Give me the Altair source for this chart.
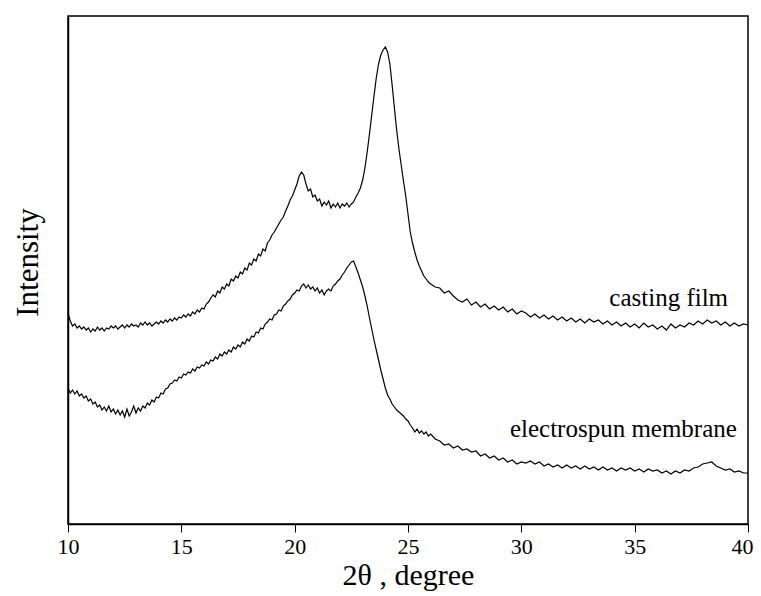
import altair as alt
import pandas as pd

# casting film: 2theta (deg) and intensity (a.u.)
cast_x = [10.0, 10.1, 10.2, 10.3, 10.4, 10.5, 10.6, 10.7, 10.8, 10.9,
          11.0, 11.1, 11.2, 11.3, 11.4, 11.5, 11.6, 11.7, 11.8, 11.9,
          12.0, 12.1, 12.2, 12.3, 12.4, 12.5, 12.6, 12.7, 12.8, 12.9,
          13.0, 13.1, 13.2, 13.3, 13.4, 13.5, 13.6, 13.7, 13.8, 13.9,
          14.0, 14.1, 14.2, 14.3, 14.4, 14.5, 14.6, 14.7, 14.8, 14.9,
          15.0, 15.1, 15.2, 15.3, 15.4, 15.5, 15.6, 15.7, 15.8, 15.9,
          16.0, 16.1, 16.2, 16.3, 16.4, 16.5, 16.6, 16.7, 16.8, 16.9,
          17.0, 17.1, 17.2, 17.3, 17.4, 17.5, 17.6, 17.7, 17.8, 17.9,
          18.0, 18.1, 18.2, 18.3, 18.4, 18.5, 18.6, 18.7, 18.8, 18.9,
          19.0, 19.1, 19.2, 19.3, 19.4, 19.5, 19.6, 19.7, 19.8, 19.9,
          20.0, 20.1, 20.2, 20.3, 20.4, 20.5, 20.6, 20.7, 20.8, 20.9,
          21.0, 21.1, 21.2, 21.3, 21.4, 21.5, 21.6, 21.7, 21.8, 21.9,
          22.0, 22.1, 22.2, 22.3, 22.4, 22.5, 22.6, 22.7, 22.8, 22.9,
          23.0, 23.1, 23.2, 23.3, 23.4, 23.5, 23.6, 23.7, 23.8, 23.9,
          24.0, 24.1, 24.2, 24.3, 24.4, 24.5, 24.6, 24.7, 24.8, 24.9,
          25.0, 25.1, 25.2, 25.3, 25.4, 25.5, 25.6, 25.7, 25.8, 25.9,
          26.0, 26.2, 26.4, 26.6, 26.8, 27.0, 27.2, 27.4, 27.6, 27.8,
          28.0, 28.2, 28.4, 28.6, 28.8, 29.0, 29.2, 29.4, 29.6, 29.8,
          30.0, 30.2, 30.4, 30.6, 30.8, 31.0, 31.2, 31.4, 31.6, 31.8,
          32.0, 32.2, 32.4, 32.6, 32.8, 33.0, 33.2, 33.4, 33.6, 33.8,
          34.0, 34.2, 34.4, 34.6, 34.8, 35.0, 35.2, 35.4, 35.6, 35.8,
          36.0, 36.2, 36.4, 36.6, 36.8, 37.0, 37.2, 37.4, 37.6, 37.8,
          38.0, 38.2, 38.4, 38.6, 38.8, 39.0, 39.2, 39.4, 39.6, 39.8,
          40.0]
cast_y = [211, 203, 198, 200, 196, 198, 195, 197, 194, 196,
          192, 195, 193, 197, 194, 196, 193, 196, 195, 198,
          196, 198, 195, 197, 199, 196, 199, 197, 200, 198,
          199, 197, 201, 199, 202, 199, 201, 198, 200, 202,
          200, 203, 201, 204, 202, 205, 203, 206, 204, 207,
          206, 209, 207, 210, 208, 212, 210, 214, 212, 216,
          215, 220, 222, 226, 229, 227, 233, 231, 237, 235,
          240, 238, 245, 243, 248, 246, 252, 250, 256, 254,
          261, 259, 265, 263, 270, 268, 275, 273, 281, 284,
          289, 292, 296, 300, 304, 307, 313, 318, 324, 328,
          334, 340, 348, 352, 349, 340, 333, 335, 327, 329,
          323, 325, 318, 322, 319, 323, 316, 320, 317, 321,
          316, 320, 318, 321, 317, 320, 322, 327, 331, 336,
          344, 356, 372, 390, 409, 428, 446, 460, 469, 474,
          477, 472, 460, 439, 416, 394, 375, 359, 343, 328,
          310, 292, 281, 272, 264, 258, 253, 248, 245, 242,
          240, 237, 236, 231, 233, 228, 224, 222, 225, 219,
          222, 217, 220, 215, 218, 214, 217, 212, 215, 210,
          213, 211, 207, 210, 206, 209, 205, 208, 204, 207,
          203, 206, 202, 205, 201, 205, 202, 204, 200, 203,
          199, 202, 198, 201, 197, 200, 196, 201, 197, 199,
          195, 198, 194, 200, 196, 199, 197, 201, 199, 203,
          200, 204, 201, 203, 199, 202, 198, 201, 198, 200,
          199]

# electrospun membrane
elec_x = [10.0, 10.1, 10.2, 10.3, 10.4, 10.5, 10.6, 10.7, 10.8, 10.9,
          11.0, 11.1, 11.2, 11.3, 11.4, 11.5, 11.6, 11.7, 11.8, 11.9,
          12.0, 12.1, 12.2, 12.3, 12.4, 12.5, 12.6, 12.7, 12.8, 12.9,
          13.0, 13.1, 13.2, 13.3, 13.4, 13.5, 13.6, 13.7, 13.8, 13.9,
          14.0, 14.1, 14.2, 14.3, 14.4, 14.5, 14.6, 14.7, 14.8, 14.9,
          15.0, 15.1, 15.2, 15.3, 15.4, 15.5, 15.6, 15.7, 15.8, 15.9,
          16.0, 16.1, 16.2, 16.3, 16.4, 16.5, 16.6, 16.7, 16.8, 16.9,
          17.0, 17.1, 17.2, 17.3, 17.4, 17.5, 17.6, 17.7, 17.8, 17.9,
          18.0, 18.1, 18.2, 18.3, 18.4, 18.5, 18.6, 18.7, 18.8, 18.9,
          19.0, 19.1, 19.2, 19.3, 19.4, 19.5, 19.6, 19.7, 19.8, 19.9,
          20.0, 20.1, 20.2, 20.3, 20.4, 20.5, 20.6, 20.7, 20.8, 20.9,
          21.0, 21.1, 21.2, 21.3, 21.4, 21.5, 21.6, 21.7, 21.8, 21.9,
          22.0, 22.1, 22.2, 22.3, 22.4, 22.5, 22.6, 22.7, 22.8, 22.9,
          23.0, 23.1, 23.2, 23.3, 23.4, 23.5, 23.6, 23.7, 23.8, 23.9,
          24.0, 24.1, 24.2, 24.3, 24.4, 24.5, 24.6, 24.7, 24.8, 24.9,
          25.0, 25.1, 25.2, 25.3, 25.4, 25.5, 25.6, 25.7, 25.8, 25.9,
          26.0, 26.2, 26.4, 26.6, 26.8, 27.0, 27.2, 27.4, 27.6, 27.8,
          28.0, 28.2, 28.4, 28.6, 28.8, 29.0, 29.2, 29.4, 29.6, 29.8,
          30.0, 30.2, 30.4, 30.6, 30.8, 31.0, 31.2, 31.4, 31.6, 31.8,
          32.0, 32.2, 32.4, 32.6, 32.8, 33.0, 33.2, 33.4, 33.6, 33.8,
          34.0, 34.2, 34.4, 34.6, 34.8, 35.0, 35.2, 35.4, 35.6, 35.8,
          36.0, 36.2, 36.4, 36.6, 36.8, 37.0, 37.2, 37.4, 37.6, 37.8,
          38.0, 38.2, 38.4, 38.6, 38.8, 39.0, 39.2, 39.4, 39.6, 39.8,
          40.0]
elec_y = [136, 131, 134, 130, 133, 128, 130, 126, 128, 123,
          125, 120, 122, 117, 119, 114, 117, 113, 118, 112,
          115, 110, 114, 109, 113, 107, 115, 108, 112, 118,
          111, 116, 113, 118, 116, 121, 119, 124, 122, 127,
          126, 131, 130, 135, 136, 140, 141, 144, 143, 147,
          146, 150, 149, 152, 151, 155, 153, 157, 156, 159,
          158, 162, 160, 164, 163, 167, 165, 170, 168, 172,
          170, 174, 172, 177, 175, 179, 177, 182, 180, 185,
          183, 188, 187, 192, 191, 196, 195, 200, 202, 205,
          204, 209, 210, 214, 213, 218, 220, 223, 225, 229,
          231, 234, 233, 238, 240, 236, 239, 235, 237, 233,
          236, 231, 234, 229, 233, 235, 233, 238, 240, 243,
          245, 249, 252, 256, 259, 262, 263, 257, 251, 244,
          237, 228, 218, 206, 195, 184, 174, 164, 154, 145,
          136, 129, 125, 120, 117, 114, 112, 110, 108, 105,
          103, 99, 96, 92, 95, 91, 93, 90, 92, 88,
          90, 85, 83, 79, 80, 76, 78, 74, 75, 72,
          73, 68, 70, 66, 68, 64, 66, 62, 64, 60,
          62, 61, 63, 60, 62, 58, 60, 57, 59, 56,
          59, 56, 58, 55, 58, 55, 57, 54, 57, 54,
          56, 53, 56, 54, 56, 53, 55, 52, 55, 53,
          54, 51, 53, 50, 53, 51, 54, 53, 56, 57,
          60, 61, 62, 58, 56, 54, 55, 52, 53, 51,
          51]

label_text = ["casting film", "electrospun membrane"]
label_x = [39.12, 39.51]
label_y = [218, 87]

df = pd.concat([
    pd.DataFrame({"t": cast_x, "I": cast_y, "s": "casting film"}),
    pd.DataFrame({"t": elec_x, "I": elec_y, "s": "electrospun membrane"}),
])
lab = pd.DataFrame({"text": label_text, "t": label_x, "I": label_y})

FONT = "Liberation Serif"

xs = alt.Scale(domain=[10, 40], nice=False, zero=False)
ys = alt.Scale(domain=[0, 508], nice=False, zero=False)

lines = alt.Chart(df).mark_line(color="black", strokeWidth=1.2).encode(
    x=alt.X("t:Q", scale=xs, axis=alt.Axis(
        title="2θ , degree", values=[10, 15, 20, 25, 30, 35, 40], format="d",
        tickSize=8, tickColor="black", tickWidth=1, labelPadding=4, labelFlush=False,
        labelAlign={"expr": "datum.value == 40 ? 'right' : 'center'"},
        labelOffset={"expr": "datum.value == 40 ? 5 : 0"},
        labelFont=FONT, labelFontSize=22, labelColor="black",
        titleFont=FONT, titleFontSize=30, titleFontWeight="normal", titleColor="black",
        titlePadding=3, domainColor="black", domainWidth=1.5, grid=False)),
    y=alt.Y("I:Q", scale=ys, axis=alt.Axis(
        title="Intensity", labels=False, ticks=False, grid=False,
        domainColor="black", domainWidth=1.5,
        titleFont=FONT, titleFontSize=31, titleFontWeight="normal", titleColor="black",
        titleX=-24, titleY=246, titleAngle=-90, titleAlign="center", titleBaseline="bottom")),
    detail="s:N",
)

texts = alt.Chart(lab).mark_text(font=FONT, fontSize=25, align="right", baseline="alphabetic",
                                 color="black").encode(
    x=alt.X("t:Q", scale=xs), y=alt.Y("I:Q", scale=ys), text="text:N")

chart = (lines + texts).properties(
    width=680, height=508,
    autosize=alt.AutoSizeParams(type="none"),
    padding={"left": 60, "top": 8, "right": 5, "bottom": 70},
).configure_view(stroke="black", strokeWidth=1.5)

chart.save("out.html", embed_options={"renderer": "svg", "actions": False})
